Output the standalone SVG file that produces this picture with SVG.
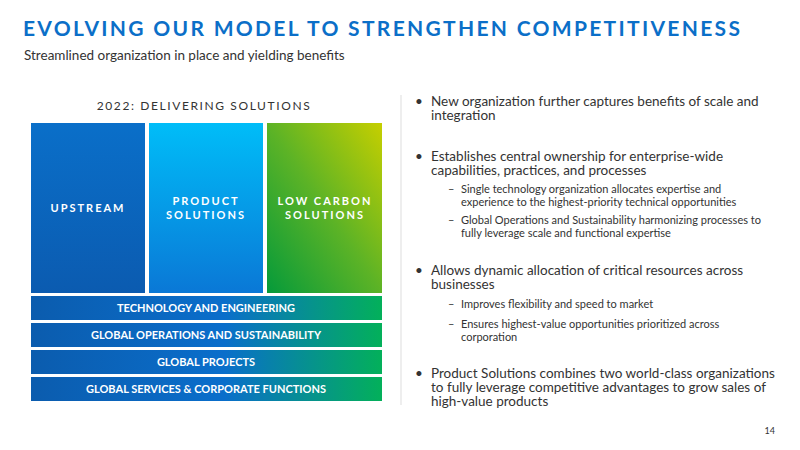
<svg xmlns="http://www.w3.org/2000/svg" width="800" height="450" viewBox="0 0 800 450">
<defs>
<linearGradient id="gU" x1="0" y1="0" x2="0" y2="1"><stop offset="0" stop-color="#0a6fc9"/><stop offset="1" stop-color="#0b5bb0"/></linearGradient>
<linearGradient id="gP" x1="0" y1="0" x2="0" y2="1"><stop offset="0" stop-color="#00bdf8"/><stop offset="1" stop-color="#0a78d6"/></linearGradient>
<linearGradient id="gL" x1="1" y1="0" x2="0" y2="1"><stop offset="0" stop-color="#c6cf00"/><stop offset="0.5" stop-color="#5cb326"/><stop offset="1" stop-color="#059a3a"/></linearGradient>
<linearGradient id="gB" x1="0" y1="0" x2="1" y2="0"><stop offset="0" stop-color="#0b5cae"/><stop offset="0.55" stop-color="#0a6ecb"/><stop offset="1" stop-color="#03b05a"/></linearGradient>
<style>
.t{font-family:Lato,"Open Sans",sans-serif}
.col{font-family:Lato,sans-serif;font-weight:bold;font-size:11px;fill:#fff;letter-spacing:2px;text-anchor:middle}
.bar{font-family:Lato,sans-serif;font-weight:bold;font-size:11px;fill:#fff;text-anchor:middle}
.b{font-family:Lato,sans-serif;font-size:13.5px;fill:#333}
.s{font-family:Lato,sans-serif;font-size:11px;fill:#333}
</style>
</defs>
<text x="23" y="36" class="t" font-size="21" font-weight="bold" fill="#0b6fc8" letter-spacing="2.3">EVOLVING OUR MODEL TO STRENGTHEN COMPETITIVENESS</text>
<text x="24" y="60" class="t" font-size="13.5" fill="#333">Streamlined organization in place and yielding benefits</text>
<text x="204" y="110" class="t" font-size="12" fill="#333" letter-spacing="1.6" text-anchor="middle">2022: DELIVERING SOLUTIONS</text>
<g id="upstream"><rect x="31" y="123" width="114" height="170" fill="url(#gU)"/><text x="88" y="212" class="col">UPSTREAM</text></g>
<g id="product"><rect x="149" y="123" width="114" height="170" fill="url(#gP)"/><text x="206" y="205" class="col">PRODUCT</text><text x="206" y="219" class="col">SOLUTIONS</text></g>
<g id="lowcarbon"><rect x="267" y="123" width="115" height="170" fill="url(#gL)"/><text x="325" y="205" class="col">LOW CARBON</text><text x="325" y="219" class="col">SOLUTIONS</text></g>
<g id="tech"><rect x="31" y="296" width="351" height="24" fill="url(#gB)"/><text x="206" y="312" class="bar">TECHNOLOGY AND ENGINEERING</text></g>
<g id="ops"><rect x="31" y="323" width="351" height="24" fill="url(#gB)"/><text x="206" y="339" class="bar">GLOBAL OPERATIONS AND SUSTAINABILITY</text></g>
<g id="projects"><rect x="31" y="350" width="351" height="24" fill="url(#gB)"/><text x="206" y="366" class="bar">GLOBAL PROJECTS</text></g>
<g id="services"><rect x="31" y="377" width="351" height="24" fill="url(#gB)"/><text x="206" y="393" class="bar">GLOBAL SERVICES &amp; CORPORATE FUNCTIONS</text></g>
<g id="connectors"><line x1="401" y1="95" x2="401" y2="405" stroke="#ddd" stroke-width="1"/></g>
<g id="bullets">
<text class="b" x="415" y="106">•</text><text class="b" x="431" y="106">New organization further captures benefits of scale and</text><text class="b" x="431" y="120">integration</text>
<text class="b" x="415" y="161">•</text><text class="b" x="431" y="161">Establishes central ownership for enterprise-wide</text><text class="b" x="431" y="175">capabilities, practices, and processes</text>
<text class="s" x="448" y="193">–</text><text class="s" x="461" y="193">Single technology organization allocates expertise and</text><text class="s" x="461" y="205.5">experience to the highest-priority technical opportunities</text>
<text class="s" x="448" y="224">–</text><text class="s" x="461" y="224">Global Operations and Sustainability harmonizing processes to</text><text class="s" x="461" y="236.5">fully leverage scale and functional expertise</text>
<text class="b" x="415" y="275">•</text><text class="b" x="431" y="275">Allows dynamic allocation of critical resources across</text><text class="b" x="431" y="289">businesses</text>
<text class="s" x="448" y="308">–</text><text class="s" x="461" y="308">Improves flexibility and speed to market</text>
<text class="s" x="448" y="328">–</text><text class="s" x="461" y="328">Ensures highest-value opportunities prioritized across</text><text class="s" x="461" y="340.5">corporation</text>
<text class="b" x="415" y="378">•</text><text class="b" x="431" y="378">Product Solutions combines two world-class organizations</text><text class="b" x="431" y="392">to fully leverage competitive advantages to grow sales of</text><text class="b" x="431" y="406">high-value products</text>
</g>
<text x="775" y="434" class="t" font-size="9" fill="#333" text-anchor="end">14</text>
</svg>
